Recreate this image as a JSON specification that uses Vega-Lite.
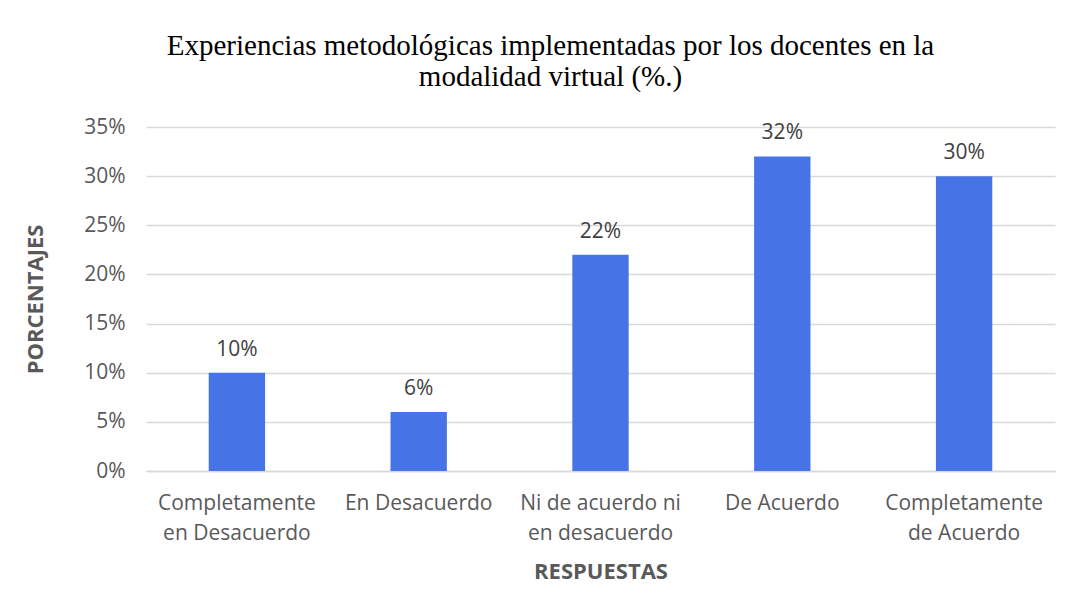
{
  "$schema": "https://vega.github.io/schema/vega-lite/v6.json",
  "width": 909,
  "height": 344,
  "autosize": {"type": "none"},
  "padding": {"left": 146, "top": 127, "right": 19, "bottom": 144},
  "background": "white",
  "title": {
    "text": ["Experiencias metodológicas implementadas por los docentes en la", "modalidad virtual (%.)"],
    "font": "Liberation Serif",
    "fontSize": 29,
    "fontWeight": "normal",
    "color": "#000000",
    "anchor": "middle",
    "dx": -50,
    "offset": 24,
    "lineHeight": 31
  },
  "data": {
    "values": [
      {"respuesta": "Completamente en Desacuerdo", "porcentaje": 0.10},
      {"respuesta": "En Desacuerdo", "porcentaje": 0.06},
      {"respuesta": "Ni de acuerdo ni en desacuerdo", "porcentaje": 0.22},
      {"respuesta": "De Acuerdo", "porcentaje": 0.32},
      {"respuesta": "Completamente de Acuerdo", "porcentaje": 0.30}
    ]
  },
  "encoding": {
    "x": {
      "field": "respuesta",
      "type": "nominal",
      "sort": null,
      "scale": {"paddingInner": 0.69, "paddingOuter": 0.345},
      "axis": {
        "title": "RESPUESTAS",
        "labelAngle": 0,
        "labelExpr": "datum.label == 'Completamente en Desacuerdo' ? ['Completamente', 'en Desacuerdo'] : datum.label == 'Ni de acuerdo ni en desacuerdo' ? ['Ni de acuerdo ni', 'en desacuerdo'] : datum.label == 'Completamente de Acuerdo' ? ['Completamente', 'de Acuerdo'] : datum.label",
        "labelLineHeight": 30,
        "labelPadding": 21,
        "labelBaseline": "top",
        "ticks": false,
        "domainColor": "#d9d9d9",
        "domainWidth": 1.5,
        "titlePadding": 18
      }
    },
    "y": {
      "field": "porcentaje",
      "type": "quantitative",
      "scale": {"domain": [0, 0.35], "nice": false},
      "axis": {
        "title": "PORCENTAJES",
        "format": ".0%",
        "values": [0, 0.05, 0.1, 0.15, 0.2, 0.25, 0.3, 0.35],
        "ticks": false,
        "domain": false,
        "gridColor": "#d9d9d9",
        "gridWidth": 1.5,
        "labelPadding": 21,
        "titlePadding": 36
      }
    }
  },
  "layer": [
    {"mark": {"type": "bar", "color": "#4674e6"}},
    {
      "mark": {"type": "text", "baseline": "bottom", "dy": -13, "font": "Open Sans", "fontSize": 21, "color": "#404040"},
      "encoding": {"text": {"field": "porcentaje", "type": "quantitative", "format": ".0%"}}
    }
  ],
  "config": {
    "view": {"stroke": null},
    "axis": {
      "labelFont": "Open Sans",
      "labelFontSize": 21,
      "labelColor": "#595959",
      "titleFont": "Open Sans",
      "titleFontSize": 22,
      "titleFontWeight": "bold",
      "titleColor": "#595959"
    }
  }
}
